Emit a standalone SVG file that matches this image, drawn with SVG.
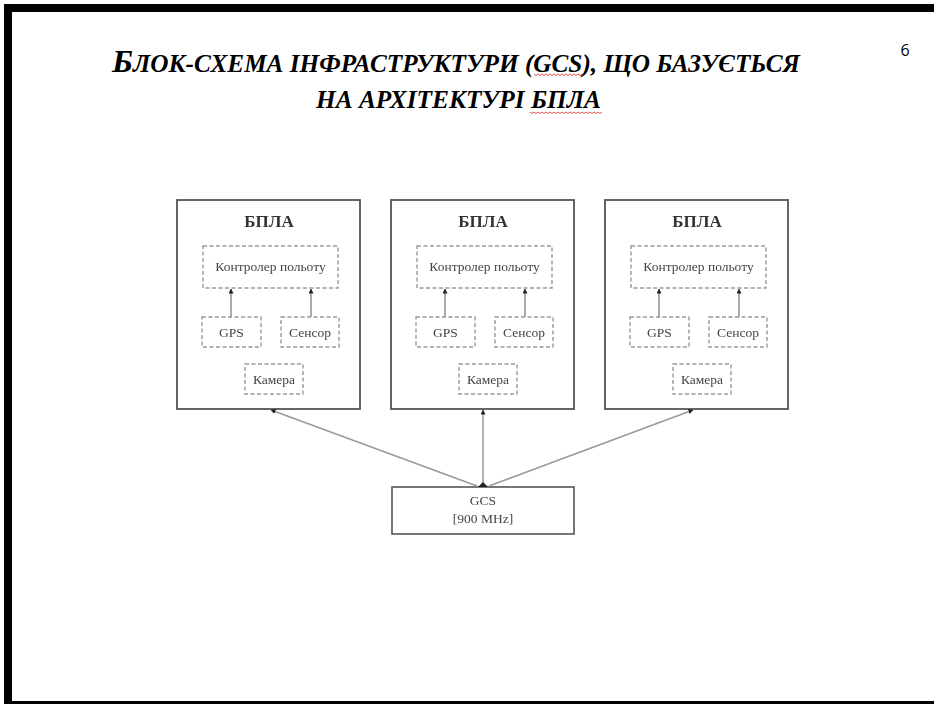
<svg xmlns="http://www.w3.org/2000/svg" width="934" height="704" viewBox="0 0 934 704">
  <defs>
    <style>
      .title { font-family: "Liberation Serif", "Times New Roman", serif; font-weight: bold; font-style: italic; fill: #000; }
      .pg { font-family: "Open Sans", "Liberation Sans", sans-serif; font-size: 16px; fill: #000; }
      .uav { fill: #fff; stroke: #555; stroke-width: 1.8; }
      .part { fill: #fff; stroke: #999; stroke-width: 1.4; stroke-dasharray: 4 2.5; }
      .gcs { fill: #fff; stroke: #555; stroke-width: 1.6; }
      .t { font-family: "Liberation Serif", "Times New Roman", serif; font-size: 13.5px; fill: #444; text-anchor: middle; }
      .hdr { font-family: "Liberation Serif", "Times New Roman", serif; font-size: 17px; font-weight: bold; fill: #333; text-anchor: middle; }
      .link { stroke: #999; stroke-width: 1.5; fill: none; }
      .inner { stroke: #888; stroke-width: 1.4; fill: none; }
      .squiggle { stroke: #e0403a; stroke-width: 0.9; fill: none; }
    </style>
    <marker id="tip" viewBox="0 0 10 10" refX="9" refY="5" markerWidth="5" markerHeight="5" markerUnits="userSpaceOnUse" orient="auto">
      <path d="M0,0 L10,5 L0,10 z" fill="#222"/>
    </marker>
    <filter id="soft" x="-5%" y="-5%" width="110%" height="110%">
      <feGaussianBlur stdDeviation="0.35"/>
    </filter>
  </defs>

  <rect width="934" height="704" fill="#fff"/>

  <!-- slide frame -->
  <g id="frame" fill="#000">
    <rect x="4" y="4" width="930" height="8"/>
    <rect x="4" y="4" width="8" height="700"/>
    <rect x="4" y="701" width="930" height="3"/>
  </g>

  <!-- heading -->
  <g id="heading">
    <text class="title" x="112" y="72" textLength="688" lengthAdjust="spacingAndGlyphs"><tspan font-size="32">Б</tspan><tspan font-size="24.5">ЛОК-СХЕМА ІНФРАСТРУКТУРИ (GCS), ЩО БАЗУЄТЬСЯ</tspan></text>
    <text class="title" x="316" y="108" font-size="24.5" textLength="285" lengthAdjust="spacingAndGlyphs">НА АРХІТЕКТУРІ БПЛА</text>
    <path class="squiggle" d="M534,74 l2,1.5 l2,-1.5 l2,1.5 l2,-1.5 l2,1.5 l2,-1.5 l2,1.5 l2,-1.5 l2,1.5 l2,-1.5 l2,1.5 l2,-1.5 l2,1.5 l2,-1.5 l2,1.5 l2,-1.5 l2,1.5 l2,-1.5 l2,1.5 l2,-1.5 l2,1.5 l2,-1.5 l2,1.5 l2,-1.5"/>
    <path class="squiggle" d="M530,112 l2,1.5 l2,-1.5 l2,1.5 l2,-1.5 l2,1.5 l2,-1.5 l2,1.5 l2,-1.5 l2,1.5 l2,-1.5 l2,1.5 l2,-1.5 l2,1.5 l2,-1.5 l2,1.5 l2,-1.5 l2,1.5 l2,-1.5 l2,1.5 l2,-1.5 l2,1.5 l2,-1.5 l2,1.5 l2,-1.5 l2,1.5 l2,-1.5 l2,1.5 l2,-1.5 l2,1.5 l2,-1.5 l2,1.5 l2,-1.5 l2,1.5 l2,-1.5 l2,1.5 l2,-1.5"/>
  </g>
  <text id="page-number" class="pg" x="905" y="56" text-anchor="middle">6</text>

  <g id="diagram" filter="url(#soft)">
    <!-- UAV 1 -->
    <g id="uav1" transform="translate(177,0)">
      <rect class="uav" x="0" y="200" width="183" height="209"/>
      <text class="hdr" x="92" y="227">БПЛА</text>
      <g id="uav1-controller"><rect class="part" x="26" y="246" width="135" height="42"/><text class="t" x="93.5" y="271">Контролер польоту</text></g>
      <g id="uav1-gps"><rect class="part" x="25" y="317" width="59" height="30"/><text class="t" x="54.5" y="337">GPS</text></g>
      <g id="uav1-sensor"><rect class="part" x="104" y="317" width="58" height="30"/><text class="t" x="133" y="337">Сенсор</text></g>
      <g id="uav1-camera"><rect class="part" x="68" y="364" width="58" height="30"/><text class="t" x="97" y="384">Камера</text></g>
      <line class="inner" x1="54" y1="317" x2="54" y2="289" marker-end="url(#tip)"/>
      <line class="inner" x1="134" y1="317" x2="134" y2="289" marker-end="url(#tip)"/>
    </g>

    <!-- UAV 2 -->
    <g id="uav2" transform="translate(391,0)">
      <rect class="uav" x="0" y="200" width="183" height="209"/>
      <text class="hdr" x="92" y="227">БПЛА</text>
      <g id="uav2-controller"><rect class="part" x="26" y="246" width="135" height="42"/><text class="t" x="93.5" y="271">Контролер польоту</text></g>
      <g id="uav2-gps"><rect class="part" x="25" y="317" width="59" height="30"/><text class="t" x="54.5" y="337">GPS</text></g>
      <g id="uav2-sensor"><rect class="part" x="104" y="317" width="58" height="30"/><text class="t" x="133" y="337">Сенсор</text></g>
      <g id="uav2-camera"><rect class="part" x="68" y="364" width="58" height="30"/><text class="t" x="97" y="384">Камера</text></g>
      <line class="inner" x1="54" y1="317" x2="54" y2="289" marker-end="url(#tip)"/>
      <line class="inner" x1="134" y1="317" x2="134" y2="289" marker-end="url(#tip)"/>
    </g>

    <!-- UAV 3 -->
    <g id="uav3" transform="translate(605,0)">
      <rect class="uav" x="0" y="200" width="183" height="209"/>
      <text class="hdr" x="92" y="227">БПЛА</text>
      <g id="uav3-controller"><rect class="part" x="26" y="246" width="135" height="42"/><text class="t" x="93.5" y="271">Контролер польоту</text></g>
      <g id="uav3-gps"><rect class="part" x="25" y="317" width="59" height="30"/><text class="t" x="54.5" y="337">GPS</text></g>
      <g id="uav3-sensor"><rect class="part" x="104" y="317" width="58" height="30"/><text class="t" x="133" y="337">Сенсор</text></g>
      <g id="uav3-camera"><rect class="part" x="68" y="364" width="58" height="30"/><text class="t" x="97" y="384">Камера</text></g>
      <line class="inner" x1="54" y1="317" x2="54" y2="289" marker-end="url(#tip)"/>
      <line class="inner" x1="134" y1="317" x2="134" y2="289" marker-end="url(#tip)"/>
    </g>

    <!-- ground control station -->
    <g id="gcs">
      <rect class="gcs" x="392" y="487" width="182" height="47"/>
      <text class="t" x="483" y="505">GCS</text>
      <text class="t" x="483" y="523">[900 MHz]</text>
    </g>

    <!-- radio links -->
    <g id="connectors">
      <line class="link" x1="477" y1="486" x2="271" y2="410" marker-end="url(#tip)"/>
      <line class="link" x1="483" y1="486" x2="483" y2="410" marker-end="url(#tip)"/>
      <line class="link" x1="489" y1="486" x2="693" y2="410" marker-end="url(#tip)"/>
      <path d="M478,487 L483,482 L488,487 z" fill="#222"/>
    </g>
  </g>
</svg>
